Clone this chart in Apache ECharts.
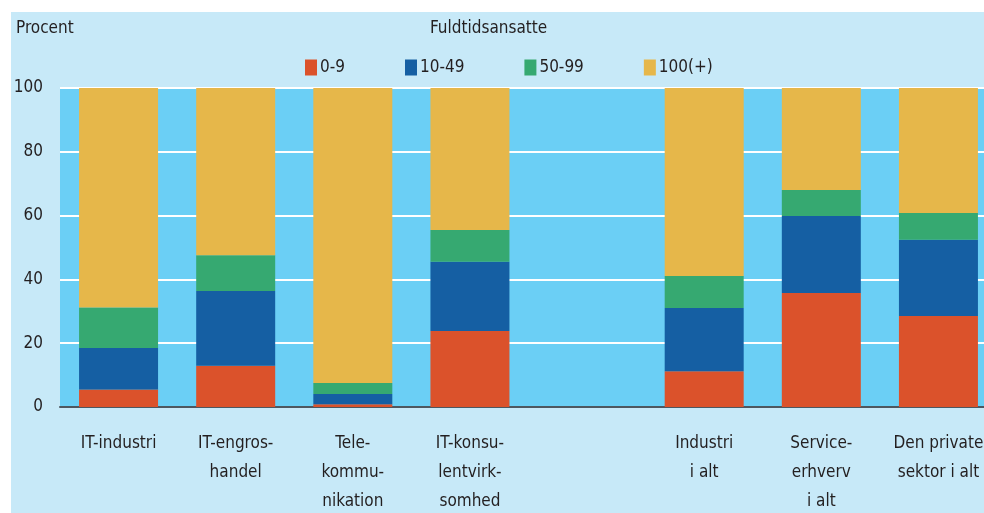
<!DOCTYPE html>
<html>
<head>
<meta charset="utf-8">
<script src="https://cdn.jsdelivr.net/npm/echarts@6/dist/echarts.min.js"></script>
<style>
  html, body { margin: 0; padding: 0; background: #fff; }
  #main { width: 984px; height: 513px; }
</style>
</head>
<body>
<div id="main"></div>
<script>
var categories = ['IT-industri', 'IT-engros-\nhandel', 'Tele-\nkommu-\nnikation', 'IT-konsu-\nlentvirk-\nsomhed', '', 'Industri\ni alt', 'Service-\nerhverv\ni alt', 'Den private\nsektor i alt'];
var seriesNames = ['0-9', '10-49', '50-99', '100(+)'];
var small = [5.5, 12.9, 0.9, 23.8, null, 11.2, 35.7, 28.5];
var medium = [13.0, 23.5, 3.2, 21.7, null, 19.8, 24.2, 23.9];
var large = [12.7, 11.2, 3.4, 10.0, null, 10.1, 8.1, 8.4];
var huge = [68.8, 52.4, 92.5, 44.5, null, 58.9, 32.0, 39.2];
var colors = ['#db522b', '#155fa3', '#36a971', '#e6b74a'];

window.onload = function() {
  var font = '"Liberation Sans Narrow", "DejaVu Sans Condensed", sans-serif';
  var txt = '#231f20';
  var values = [small, medium, large, huge];

  var series = values.map(function(d, i) {
    return {
      name: seriesNames[i],
      type: 'bar',
      stack: 'total',
      barWidth: 79,
      data: d,
      itemStyle: { color: colors[i] }
    };
  });

  var option = {
    backgroundColor: '#ffffff',
    animation: false,
    textStyle: { fontFamily: font },
    graphic: [{
      type: 'rect',
      z: -10,
      shape: { x: 11, y: 12, width: 973, height: 501 },
      style: { fill: '#c7e9f8' }
    }, {
      type: 'text',
      left: 16, top: 20,
      style: { text: 'Procent', fill: txt, font: '17px ' + font }
    }, {
      type: 'text',
      left: 430, top: 20,
      style: { text: 'Fuldtidsansatte', fill: txt, font: '17px ' + font }
    }],
    legend: {
      data: seriesNames,
      left: 300,
      top: 54,
      itemWidth: 12,
      itemHeight: 16,
      itemGap: 60,
      icon: 'rect',
      textStyle: { color: txt, fontSize: 17, fontFamily: font, padding: [0, 0, 0, -2] }
    },
    grid: {
      left: 60,
      width: 937,
      top: 88,
      height: 319,
      outerBoundsMode: 'none',
      containLabel: false,
      show: true,
      borderWidth: 0,
      backgroundColor: '#6bcff5'
    },
    xAxis: {
      type: 'category',
      data: categories,
      axisLine: { lineStyle: { color: '#4d5760', width: 2 } },
      axisTick: { show: false },
      axisLabel: {
        color: txt,
        fontSize: 17,
        fontFamily: font,
        lineHeight: 29,
        margin: 22,
        interval: 0
      }
    },
    yAxis: {
      type: 'value',
      min: 0,
      max: 100,
      interval: 20,
      axisLine: { show: false },
      axisTick: { show: false },
      axisLabel: { color: txt, fontSize: 17, fontFamily: font, margin: 17 },
      splitLine: { lineStyle: { color: '#ffffff', width: 2 } }
    },
    series: series
  };

  var chart = echarts.init(document.getElementById('main'));
  chart.setOption(option);
};
</script>
</body>
</html>
